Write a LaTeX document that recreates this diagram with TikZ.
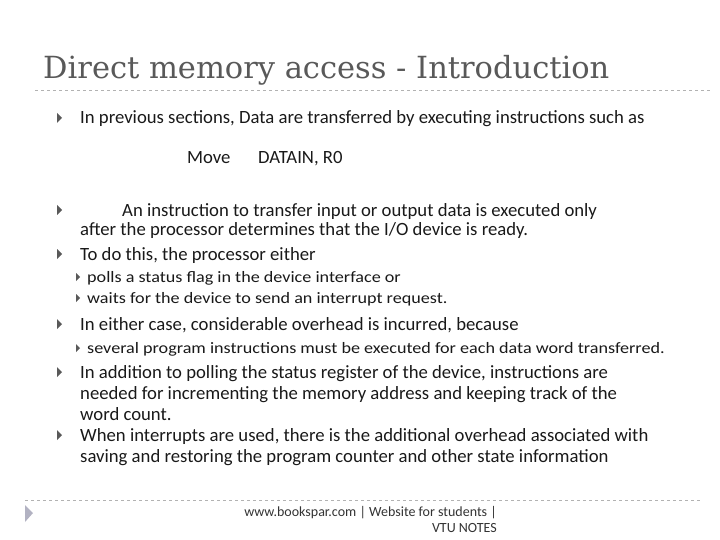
\documentclass[tikz,border=0pt]{standalone}
\usepackage{fontspec}
\setmainfont{DejaVu Serif}
\newfontfamily\bodyf{Carlito}
\newfontfamily\subf[FakeStretch=1.14]{Carlito}
\begin{document}
\begin{tikzpicture}[x=1pt,y=-1pt,
  txt/.style={anchor=base west,inner sep=0pt,font=\bodyf\fontsize{18.7}{20}\selectfont,text=black!90},
  sub/.style={anchor=base west,inner sep=0pt,font=\subf\fontsize{15.9}{17}\selectfont,text=black!90},
  bul/.style={fill=black!65,draw=none},
  ln/.style={draw=black!30,dashed,line width=0.6pt}]
\useasboundingbox (0,0) rectangle (720,540);
\node[anchor=base west,inner sep=0pt,font=\fontsize{30.5}{34}\selectfont,text=black!65] (title) at (43,79) {Direct memory access - Introduction};
\draw[ln] (35,90) coordinate (l1) -- (712,90) coordinate (l2);
\foreach \y in {118,210,254,324,372,435}{\fill[bul] (57,\y-5) -- (62,\y) -- (57,\y+5) -- cycle;}
\foreach \y in {277,298,348}{\fill[bul] (76,\y-4) -- (80,\y) -- (76,\y+4) -- cycle;}
\node[txt] (a) at (80,124) {In previous sections, Data are transferred by executing instructions such as};
\node[txt] (m1) at (187,164) {Move};
\node[txt] (m2) at (258,164) {DATAIN, R0};
\node[txt] (b1) at (122,216) {An instruction to transfer input or output data is executed only};
\node[txt] (b2) at (80,236) {after the processor determines that the I/O device is ready.};
\node[txt] (c) at (80,260) {To do this, the processor either};
\node[sub] (c1) at (87,282) {polls a status flag in the device interface or};
\node[sub] (c2) at (87,303) {waits for the device to send an interrupt request.};
\node[txt] (d) at (80,330) {In either case, considerable overhead is incurred, because};
\node[sub] (d1) at (87,353) {several program instructions must be executed for each data word transferred.};
\node[txt] (e1) at (80,378) {In addition to polling the status register of the device, instructions are};
\node[txt] (e2) at (80,399) {needed for incrementing the memory address and keeping track of the};
\node[txt] (e3) at (80,420) {word count.};
\node[txt] (f1) at (80,441) {When interrupts are used, there is the additional overhead associated with};
\node[txt] (f2) at (80,462) {saving and restoring the program counter and other state information};
\draw[ln] (25,500) coordinate (l3) -- (700,500) coordinate (l4);
\fill[blue!20!black!30] (25,505) -- (33,513) -- (25,522) -- cycle;
\node[anchor=base east,inner sep=0pt,font=\bodyf\fontsize{14}{15}\selectfont,text=black!80] (g1) at (497,516) {www.bookspar.com | Website for students |};
\node[anchor=base east,inner sep=0pt,font=\bodyf\fontsize{14}{15}\selectfont,text=black!80] (g2) at (497,532) {VTU NOTES};
\end{tikzpicture}
\end{document}
